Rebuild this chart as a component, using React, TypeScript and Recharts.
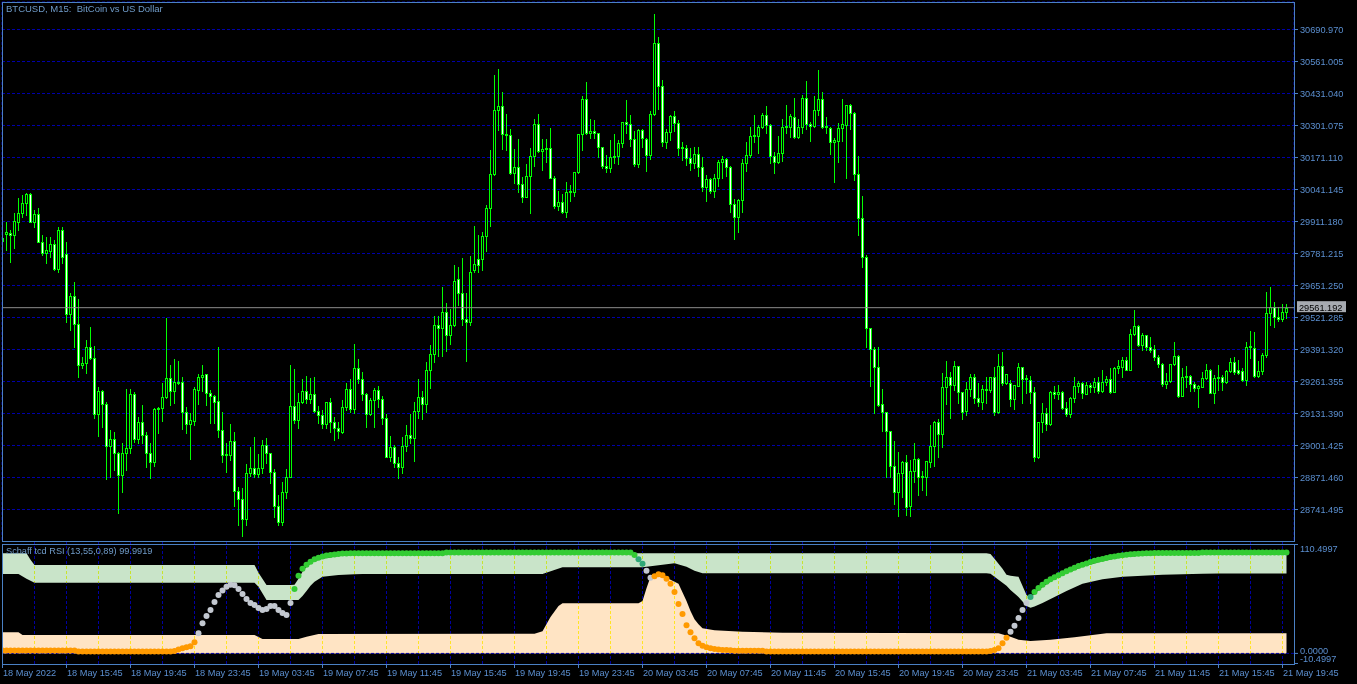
import { ComposedChart, Bar, Area, Scatter, XAxis, YAxis, CartesianGrid, ReferenceLine } from 'recharts'

const FONT = "'Liberation Sans', Arial, sans-serif"
const FRAME = '#4a80c4'
const LABEL = '#5b8fd0'
const GRID = '#0000aa'
const CANDLE = '#00ff00'

// BTCUSD M15, 18 May 11:45 .. 21 May 20:00 (one entry per bar)
const opens = [
  29833, 29861, 29865, 29857, 29910, 29946, 29987, 30023, 29910, 29942,
  29828, 29784, 29792, 29820, 29719, 29877, 29780, 29536, 29609, 29496,
  29329, 29337, 29402, 29357, 29130, 29224, 29171, 29000, 29029, 28972,
  28883, 28972, 28992, 29211, 29029, 29098, 29045, 28972, 28935, 29151,
  29155, 29199, 29276, 29224, 29260, 29260, 29138, 29090, 29102, 29228,
  29280, 29293, 29215, 29203, 29183, 29065, 28964, 28964, 29021, 28818,
  28785, 28704, 28891, 28911, 28887, 28911, 29004, 28972, 28895, 28757,
  28692, 28814, 28874, 29163, 29106, 29179, 29224, 29191, 29211, 29142,
  29126, 29090, 29179, 29098, 29073, 29057, 29159, 29232, 29151, 29317,
  29272, 29211, 29130, 29187, 29228, 29191, 29114, 28956, 28996, 28931,
  28915, 29000, 29045, 29033, 29142, 29199, 29171, 29309, 29374, 29492,
  29479, 29544, 29451, 29492, 29678, 29621, 29516, 29504, 29715, 29759,
  29759, 29853, 29967, 30105, 30364, 30381, 30267, 30263, 30109, 30133,
  30064, 30011, 30096, 30178, 30308, 30198, 30206, 30210, 30088, 29975,
  29991, 29950, 30031, 30031, 30113, 30267, 30409, 30271, 30279, 30271,
  30214, 30137, 30129, 30174, 30178, 30230, 30316, 30308, 30247, 30145,
  30283, 30247, 30182, 30348, 30636, 30462, 30234, 30275, 30340, 30312,
  30210, 30210, 30170, 30149, 30186, 30133, 30052, 30084, 30036, 30088,
  30153, 30166, 30133, 29983, 29930, 29999, 30149, 30182, 30259, 30259,
  30295, 30344, 30303, 30178, 30153, 30190, 30295, 30295, 30336, 30255,
  30295, 30413, 30308, 30299, 30364, 30409, 30295, 30291, 30234, 30239,
  30291, 30303, 30385, 30352, 30105, 29926, 29768, 29479, 29394, 29321,
  29171, 29138, 29061, 28919, 28814, 28891, 28935, 28757, 28899, 28948,
  28874, 28874, 28935, 29000, 29098, 29049, 29240, 29280, 29248, 29325,
  29219, 29142, 29232, 29280, 29195, 29179, 29232, 29228, 29280, 29138,
  29325, 29256, 29256, 29191, 29244, 29321, 29272, 29268, 29219, 28956,
  29098, 29134, 29090, 29219, 29211, 29219, 29155, 29130, 29195, 29244,
  29256, 29211, 29248, 29240, 29260, 29224, 29260, 29272, 29219, 29317,
  29321, 29349, 29309, 29455, 29488, 29410, 29451, 29402, 29394, 29362,
  29333, 29252, 29264, 29333, 29366, 29203, 29280, 29285, 29252, 29236,
  29240, 29276, 29309, 29215, 29276, 29280, 29260, 29305, 29341, 29309,
  29305, 29268, 29402, 29398, 29285, 29305, 29370, 29540, 29565, 29524,
  29516, 29544,
]

const highs = [
  29865, 29910, 29877, 29946, 30007, 30019, 30027, 30027, 29958, 29967,
  29857, 29849, 29849, 29837, 29889, 29889, 29828, 29621, 29666, 29597,
  29362, 29431, 29483, 29406, 29240, 29228, 29179, 29065, 29057, 28976,
  29012, 29232, 29232, 29219, 29118, 29167, 29057, 29012, 29155, 29159,
  29256, 29520, 29329, 29353, 29345, 29280, 29159, 29134, 29240, 29293,
  29329, 29293, 29228, 29207, 29402, 29138, 29012, 29090, 29057, 28834,
  28830, 28927, 28996, 29037, 28968, 29025, 29033, 28972, 28907, 28801,
  28854, 28907, 29329, 29313, 29215, 29272, 29285, 29276, 29280, 29163,
  29146, 29179, 29195, 29118, 29098, 29187, 29256, 29272, 29414, 29353,
  29301, 29215, 29195, 29236, 29244, 29203, 29130, 29041, 29004, 28956,
  29037, 29086, 29130, 29179, 29272, 29224, 29341, 29410, 29528, 29528,
  29646, 29581, 29557, 29735, 29727, 29764, 29621, 29772, 29893, 29857,
  29869, 29979, 30202, 30506, 30531, 30437, 30348, 30287, 30206, 30247,
  30092, 30145, 30210, 30328, 30348, 30247, 30247, 30291, 30096, 30036,
  30023, 30072, 30060, 30113, 30267, 30421, 30478, 30328, 30324, 30271,
  30214, 30182, 30243, 30267, 30243, 30316, 30405, 30344, 30279, 30287,
  30287, 30251, 30360, 30754, 30661, 30486, 30287, 30344, 30360, 30324,
  30234, 30222, 30210, 30214, 30214, 30174, 30100, 30088, 30105, 30161,
  30178, 30170, 30137, 30003, 30003, 30166, 30234, 30295, 30344, 30303,
  30352, 30381, 30308, 30194, 30259, 30328, 30385, 30348, 30413, 30328,
  30425, 30482, 30316, 30421, 30527, 30437, 30336, 30295, 30251, 30312,
  30409, 30385, 30389, 30356, 30178, 30015, 29776, 29479, 29402, 29402,
  29232, 29138, 29061, 29021, 28976, 28939, 28964, 28943, 29012, 28952,
  28899, 28939, 29086, 29102, 29110, 29297, 29345, 29301, 29345, 29325,
  29219, 29260, 29293, 29293, 29256, 29248, 29280, 29280, 29321, 29374,
  29382, 29293, 29268, 29248, 29337, 29321, 29289, 29285, 29240, 29098,
  29175, 29155, 29224, 29244, 29248, 29224, 29179, 29199, 29280, 29264,
  29260, 29260, 29256, 29276, 29280, 29309, 29285, 29317, 29321, 29349,
  29362, 29362, 29475, 29552, 29492, 29459, 29451, 29443, 29410, 29370,
  29337, 29297, 29333, 29423, 29370, 29317, 29325, 29289, 29260, 29248,
  29301, 29333, 29313, 29289, 29329, 29289, 29309, 29357, 29362, 29349,
  29317, 29423, 29467, 29463, 29345, 29378, 29626, 29646, 29585, 29565,
  29577, 29577,
]

const lows = [
  29776, 29796, 29747, 29804, 29877, 29930, 29938, 29910, 29889, 29828,
  29776, 29743, 29768, 29715, 29707, 29743, 29504, 29471, 29402, 29280,
  29317, 29297, 29353, 29114, 29041, 29077, 28866, 28874, 28903, 28728,
  28814, 28903, 28972, 29016, 29012, 29012, 28915, 28870, 28919, 29053,
  29102, 29195, 29167, 29175, 29252, 29069, 29053, 28948, 29086, 29171,
  29224, 29167, 29094, 29094, 29037, 28935, 28895, 28943, 28757, 28680,
  28635, 28680, 28879, 28874, 28874, 28891, 28931, 28850, 28712, 28680,
  28680, 28789, 28874, 29094, 29073, 29175, 29175, 29175, 29138, 29094,
  29073, 29073, 29057, 29025, 29033, 29053, 29146, 29138, 29134, 29256,
  29187, 29077, 29126, 29077, 29159, 29090, 28956, 28939, 28915, 28870,
  28891, 28980, 29012, 28939, 29114, 29110, 29138, 29236, 29341, 29366,
  29366, 29386, 29414, 29488, 29573, 29492, 29345, 29492, 29707, 29707,
  29715, 29792, 29893, 30100, 30283, 30206, 30202, 30105, 30068, 30031,
  29991, 30011, 29946, 30137, 30194, 30121, 30153, 30088, 29967, 29958,
  29946, 29930, 29995, 30015, 30109, 30202, 30267, 30251, 30251, 30174,
  30129, 30113, 30113, 30149, 30145, 30214, 30271, 30218, 30137, 30133,
  30214, 30117, 30166, 30344, 30368, 30218, 30210, 30243, 30279, 30182,
  30161, 30141, 30121, 30129, 30096, 30036, 29995, 30027, 30011, 30056,
  30088, 30096, 29950, 29841, 29869, 29950, 30117, 30174, 30234, 30190,
  30291, 30271, 30149, 30109, 30149, 30157, 30271, 30255, 30251, 30251,
  30271, 30287, 30239, 30295, 30344, 30291, 30271, 30186, 30072, 30153,
  30239, 30088, 30287, 30080, 29857, 29727, 29402, 29244, 29134, 29163,
  29061, 28874, 28874, 28765, 28716, 28793, 28720, 28716, 28854, 28801,
  28822, 28801, 28915, 28919, 28956, 28996, 29171, 29114, 29228, 29175,
  29110, 29126, 29203, 29175, 29163, 29151, 29175, 29219, 29126, 29134,
  29248, 29252, 29163, 29151, 29244, 29175, 29215, 29175, 28939, 28952,
  29057, 29065, 29086, 29195, 29191, 29151, 29122, 29118, 29179, 29219,
  29195, 29211, 29219, 29219, 29215, 29219, 29248, 29215, 29219, 29297,
  29280, 29309, 29309, 29451, 29406, 29390, 29390, 29382, 29349, 29321,
  29244, 29236, 29260, 29329, 29199, 29203, 29240, 29224, 29224, 29159,
  29240, 29272, 29215, 29175, 29228, 29228, 29256, 29301, 29293, 29293,
  29264, 29248, 29357, 29280, 29280, 29293, 29362, 29492, 29483, 29508,
  29508, 29520,
]

const closes = [
  29845, 29869, 29857, 29914, 29946, 29987, 30023, 29910, 29942, 29828,
  29784, 29796, 29820, 29719, 29877, 29768, 29536, 29609, 29496, 29329,
  29337, 29402, 29357, 29130, 29224, 29171, 29000, 29029, 28972, 28883,
  28972, 28992, 29211, 29029, 29098, 29045, 28972, 28935, 29151, 29155,
  29199, 29276, 29224, 29260, 29256, 29138, 29090, 29106, 29232, 29280,
  29289, 29215, 29203, 29179, 29065, 28964, 28968, 29021, 28818, 28785,
  28704, 28891, 28911, 28887, 28911, 29004, 28972, 28895, 28757, 28692,
  28814, 28874, 29163, 29106, 29179, 29224, 29191, 29211, 29142, 29126,
  29090, 29179, 29098, 29073, 29061, 29159, 29232, 29151, 29317, 29272,
  29211, 29130, 29187, 29228, 29191, 29114, 28956, 28996, 28931, 28915,
  29000, 29045, 29033, 29142, 29199, 29171, 29309, 29374, 29492, 29479,
  29544, 29451, 29492, 29670, 29621, 29516, 29504, 29707, 29739, 29735,
  29853, 29967, 30105, 30364, 30381, 30267, 30263, 30109, 30133, 30064,
  30011, 30096, 30178, 30308, 30198, 30206, 30210, 30088, 29975, 29991,
  29950, 30031, 30036, 30113, 30267, 30409, 30271, 30279, 30271, 30214,
  30137, 30129, 30174, 30178, 30230, 30316, 30308, 30247, 30145, 30283,
  30251, 30182, 30348, 30636, 30462, 30234, 30275, 30340, 30312, 30210,
  30214, 30170, 30149, 30186, 30133, 30052, 30084, 30036, 30088, 30153,
  30166, 30133, 29983, 29930, 29999, 30149, 30182, 30259, 30263, 30295,
  30344, 30303, 30178, 30153, 30190, 30295, 30299, 30340, 30255, 30295,
  30413, 30308, 30299, 30364, 30409, 30295, 30299, 30234, 30243, 30291,
  30308, 30385, 30352, 30105, 29926, 29768, 29479, 29394, 29321, 29167,
  29138, 29061, 28919, 28814, 28891, 28935, 28753, 28899, 28948, 28874,
  28879, 28939, 29000, 29098, 29049, 29240, 29280, 29248, 29325, 29219,
  29138, 29232, 29280, 29195, 29179, 29232, 29228, 29280, 29138, 29325,
  29256, 29293, 29191, 29248, 29321, 29272, 29276, 29219, 28956, 29098,
  29134, 29090, 29219, 29211, 29219, 29155, 29130, 29195, 29244, 29256,
  29215, 29248, 29240, 29260, 29224, 29260, 29272, 29219, 29317, 29325,
  29349, 29309, 29455, 29488, 29410, 29451, 29402, 29390, 29362, 29333,
  29252, 29264, 29333, 29366, 29203, 29280, 29285, 29252, 29236, 29244,
  29276, 29309, 29215, 29276, 29280, 29260, 29305, 29341, 29301, 29297,
  29268, 29402, 29406, 29285, 29305, 29370, 29540, 29565, 29524, 29516,
  29544, 29561.192,
]

const lastPrice = 29561.192

const priceTicks = [
  30690.97, 30561.005, 30431.04, 30301.075, 30171.11, 30041.145, 29911.18, 29781.215,
  29651.25, 29521.285, 29391.32, 29261.355, 29131.39, 29001.425, 28871.46, 28741.495,
]

// vertical grid every 8 bars (2 hours)
const gridBars = [
  8, 16, 24, 32, 40, 48, 56, 64, 72, 80, 88, 96, 104, 112, 120, 128, 136, 144, 152, 160,
  168, 176, 184, 192, 200, 208, 216, 224, 232, 240, 248, 256, 264, 272, 280, 288, 296, 304, 312, 320,
]

const timeBars = [0, 16, 32, 48, 64, 80, 96, 112, 128, 144, 160, 176, 192, 208, 224, 240, 256, 272, 288, 304, 320]
const timeLabels = [
  '18 May 2022', '18 May 15:45', '18 May 19:45', '18 May 23:45', '19 May 03:45', '19 May 07:45',
  '19 May 11:45', '19 May 15:45', '19 May 19:45', '19 May 23:45', '20 May 03:45', '20 May 07:45',
  '20 May 11:45', '20 May 15:45', '20 May 19:45', '20 May 23:45', '21 May 03:45', '21 May 07:45',
  '21 May 11:45', '21 May 15:45', '21 May 19:45',
]

// Schaff tcd RSI (13,55,0,89), one value per bar
const stc = [
  3, 3, 3, 3, 3, 3, 3, 3, 3, 3, 3, 3, 3, 3, 3, 3, 3, 3, 3,
  2, 2, 2, 2, 2, 2, 2, 2, 2, 2, 2, 2, 2, 2, 2, 2, 2, 2, 2, 2, 2, 2, 2, 2,
  2.5, 4, 5, 6, 7, 11, 20, 30, 37, 43,
  51, 58, 62.5, 66, 68, 67.5, 64, 59, 54, 50,
  48, 45, 43, 44, 47, 47, 43, 40, 38, 50,
  64, 77, 84, 88, 91, 93.5, 95, 96, 97, 97.7,
  98.2, 98.6, 99, 99.2,
  99.4, 99.4, 99.4, 99.4, 99.4, 99.4, 99.4, 99.4, 99.4, 99.4, 99.4, 99.4,
  99.4, 99.4, 99.4, 99.4, 99.4, 99.4, 99.4, 99.4, 99.4, 99.4, 99.4, 99.4,
  100, 100, 100, 100, 100, 100, 100, 100, 100, 100, 100, 100, 100, 100, 100, 100,
  100, 100, 100, 100, 100, 100, 100, 100, 100, 100, 100, 100, 100, 100, 100, 100,
  100, 100, 100, 100, 100, 100, 100, 100, 100, 100, 100, 100, 100, 100, 100,
  97.7, 93.5, 89, 82, 75, 76.5, 78.5, 77.5, 74, 69,
  61, 49, 39, 28, 21, 15, 10, 7.5, 6, 5,
  4.5, 4, 3.5, 3.3, 3.1,
  2.6, 2.6, 2.6, 2.6, 2.6, 2.6, 2.6, 2.6,
  1.8, 1.8, 1.8, 1.8, 1.8, 1.8, 1.8, 1.8, 1.8, 1.8, 1.8, 1.8, 1.8, 1.8,
  1.8, 1.8, 1.8, 1.8, 1.8, 1.8, 1.8, 1.8, 1.8, 1.8, 1.8, 1.8, 1.8, 1.8,
  1.8, 1.8, 1.8, 1.8, 1.8, 1.8, 1.8, 1.8, 1.8, 1.8, 1.8, 1.8, 1.8, 1.8,
  1.8, 1.8, 1.8, 1.8, 1.8, 1.8, 1.8, 1.8, 1.8, 1.8, 1.8, 1.8, 1.8, 1.8,
  2.4, 3.5, 5, 10, 15.6, 21.5, 27.5, 35, 43, 50,
  56, 61, 65, 68, 71, 73.5, 75.5, 77.5, 79.5, 81.5,
  83.3, 85, 86.6, 88, 89.3, 90.6, 91.8, 92.8, 93.7, 94.6,
  95.5, 96.2, 96.8, 97.4, 97.9, 98.3, 98.6, 98.9, 99.1, 99.3,
  99.4,
  99.6, 99.6, 99.6, 99.6, 99.6, 99.6, 99.6, 99.6, 99.6, 99.6, 99.6, 99.6,
  100, 100, 100, 100, 100, 100, 100, 100, 100, 100, 100,
  100, 100, 100, 100, 100, 100, 100, 100, 100, 100, 99.99,
]

// dot colour changes (first bar of each run)
const stcColorFrom = [0, 49, 73, 159, 161, 163, 252, 257, 258]
const stcColors = ['#ff9a00', '#c3c8d0', '#33cc33', '#2ea877', '#c3c8d0', '#ff9a00', '#c3c8d0', '#2ea877', '#33cc33']

// upper (green) filling: bar, lower edge, upper edge
const upperBars = [0, 4, 6, 7, 8, 63, 64, 66, 72, 73, 74, 75, 76, 77, 78, 80, 84, 88, 90, 100, 135, 140, 160, 163, 165, 168, 171, 173, 175, 246, 247, 248, 250, 251, 252, 254, 256, 257, 258, 260, 263, 266, 270, 275, 280, 285, 290, 300, 304, 321]
const upperLo = [78.8, 78.8, 74, 72, 70.1, 70.1, 66, 53, 53, 53, 53, 57, 62, 67, 71, 76, 77.8, 78.5, 78.8, 78.8, 78.8, 85.4, 85.4, 87, 88, 89.4, 86, 82, 79.4, 79.4, 79, 76, 70, 67, 63, 56, 47, 45.4, 46.5, 50, 56, 62, 69, 73.5, 76, 77, 78, 79, 79.3, 79.3]
const upperHi = [99.3, 99.3, 99.3, 93, 87.7, 87.7, 80, 67.9, 67.9, 68, 74, 81, 86, 89, 91.5, 94, 96.6, 97.6, 98, 99.3, 99.3, 99.3, 99.3, 99.3, 99.3, 99.3, 99.3, 99.3, 99.3, 99.3, 98.5, 94, 84, 78, 77, 76, 58, 55, 59, 66, 73.5, 79.5, 86, 91.7, 95.4, 97.1, 97.7, 98, 98, 97.8]

// lower (bisque) filling from 0 up to this edge
const lowerBars = [0, 4, 5, 63, 65, 74, 76, 79, 133, 135, 137, 139, 140, 159, 160, 161, 162, 163, 165, 167, 169, 171, 172, 173, 174, 175, 178, 185, 195, 249, 252, 254, 257, 262, 268, 276, 321]
const lowerHi = [20.9, 20.9, 18.2, 18.2, 14.3, 14.3, 16.5, 19.2, 19.5, 22, 36, 47, 49.7, 49.7, 52, 64.6, 76, 78.5, 77, 73, 69, 52, 42, 34, 29, 25, 23, 21.5, 20.5, 20, 16.5, 13.5, 12.3, 13.5, 16, 19.9, 19.9]

const indTicks = [110.4997, 0, -10.4997]

const candles = opens.map((o, i) => ({ i, o, h: highs[i], l: lows[i], c: closes[i] }))

function colorAt(i: number) {
  let col = stcColors[0]
  stcColorFrom.forEach((from, k) => {
    if (i >= from) col = stcColors[k]
  })
  return col
}

const indRows = stc.map((v, i) => {
  const u = upperBars.indexOf(i)
  const w = lowerBars.indexOf(i)
  return {
    i,
    stc: v,
    color: colorAt(i),
    upper: u >= 0 ? [upperLo[u], upperHi[u]] : null,
    lower: w >= 0 ? lowerHi[w] : null,
  }
})

function Candle(props: any) {
  const { x, y, width, height, payload } = props
  if (x == null || y == null || !payload) return null
  const cx = Math.round(x + width / 2 - 0.5) + 0.5
  const { o, h, l, c } = payload
  const span = h - l || 1
  const py = (v: number) => y + ((h - v) / span) * height
  const top = Math.round(py(Math.max(o, c)))
  const bot = Math.round(py(Math.min(o, c)))
  const bear = c < o
  return (
    <g>
      <line x1={cx} x2={cx} y1={Math.round(y)} y2={Math.round(y + height) + 1} stroke={CANDLE} strokeWidth={1} />
      {bot - top < 1 ? (
        <line x1={cx - 1.5} x2={cx + 1.5} y1={top + 0.5} y2={top + 0.5} stroke={CANDLE} strokeWidth={1} />
      ) : (
        <rect x={cx - 1} y={top + 0.5} width={2} height={bot - top} fill={bear ? '#ffffff' : '#000000'} stroke={CANDLE} strokeWidth={1} />
      )}
    </g>
  )
}

function PriceTag(props: any) {
  const vb = props.viewBox
  if (!vb) return null
  const x0 = vb.x + vb.width + 3
  return (
    <g>
      <rect x={x0} y={vb.y - 6.5} width={49} height={11} fill="#a6aab0" />
      <text x={x0 + 2} y={vb.y + 3} fill="#000" fontSize={9.2} fontFamily={FONT}>
        {lastPrice.toFixed(3)}
      </text>
    </g>
  )
}

function TimeTick(props: any) {
  const { x, y, payload } = props
  const k = timeBars.indexOf(payload.value)
  return (
    <text x={x + 0.5} y={y + 6} fill={LABEL} fontSize={9.2} fontFamily={FONT} textAnchor="start">
      {k >= 0 ? timeLabels[k] : ''}
    </text>
  )
}

function IndTick(props: any) {
  const { x, y, payload } = props
  const v = payload.value
  const dy = v > 50 ? 7 : v < 0 ? -5 : -3
  const ly = v > 50 ? y + 2.5 : v < 0 ? y - 0.5 : y
  return (
    <g>
      <line x1={x - 6} x2={x - 2} y1={ly} y2={ly} stroke={FRAME} />
      <text x={x} y={y + dy} dy="0.35em" fill={LABEL} fontSize={9.2} fontFamily={FONT}>
        {v.toFixed(4)}
      </text>
    </g>
  )
}

function Dot(props: any) {
  const { cx, cy, payload } = props
  if (cx == null || cy == null) return null
  return <circle cx={cx} cy={cy} r={3} fill={payload.color} />
}

export default function App() {
  return (
    <div style={{ position: 'absolute', left: 0, top: 0, width: 1357, height: 684, background: '#000', overflow: 'hidden', fontFamily: FONT }}>
      <div style={{ position: 'absolute', left: 0, top: 0 }}>
        <ComposedChart width={1357} height={542} data={candles} margin={{ top: 2, right: 0, bottom: 0, left: 2 }}>
          <CartesianGrid stroke={GRID} strokeDasharray="3 2" />
          <XAxis type="number" dataKey="i" domain={[-0.125, 322.875]} allowDataOverflow ticks={gridBars} interval={0} height={0} tick={false} axisLine={false} tickLine={false} />
          <YAxis
            orientation="right"
            width={63}
            domain={[28609.5, 30802.66]}
            allowDataOverflow
            ticks={priceTicks}
            interval={0}
            tickFormatter={(v: number) => v.toFixed(3)}
            tick={{ fill: LABEL, fontSize: 9.2, fontFamily: FONT }}
            tickLine={{ stroke: FRAME }}
            tickSize={4}
            tickMargin={2}
            axisLine={false}
          />
          <ReferenceLine y={lastPrice} stroke="#8c8c8c" label={<PriceTag />} />
          <Bar dataKey={(d: any) => [d.l, d.h]} barSize={3} shape={<Candle />} isAnimationActive={false} />
        </ComposedChart>
      </div>

      <div style={{ position: 'absolute', left: 0, top: 542 }}>
        <ComposedChart width={1357} height={142} data={indRows} margin={{ top: 0, right: 0, bottom: 0, left: 2 }}>
          <XAxis
            type="number"
            dataKey="i"
            domain={[-0.125, 322.875]}
            allowDataOverflow
            ticks={timeBars}
            interval={0}
            height={20}
            tick={<TimeTick />}
            tickLine={{ stroke: FRAME }}
            tickSize={4}
            axisLine={false}
          />
          <YAxis orientation="right" width={63} domain={[-10.5, 110.5]} allowDataOverflow ticks={indTicks} interval={0} tick={<IndTick />} tickLine={false} tickSize={4} tickMargin={2} axisLine={false} />
          <Area dataKey="upper" type="linear" stroke="none" fill="#c9e4c9" fillOpacity={1} connectNulls isAnimationActive={false} />
          <Area dataKey="lower" type="linear" baseValue={0} stroke="none" fill="#ffe4c4" fillOpacity={1} connectNulls isAnimationActive={false} />
          {gridBars.map((b) => (
            <ReferenceLine key={b} x={b} stroke="#0000a0" strokeDasharray="3 2" style={{ mixBlendMode: 'difference' }} />
          ))}
          <ReferenceLine y={0} stroke="#0000a0" strokeDasharray="3 2" />
          <Scatter dataKey="stc" shape={<Dot />} isAnimationActive={false} />
        </ComposedChart>
      </div>

      <div style={{ position: 'absolute', left: 2, top: 2, width: 1293, height: 540, border: `1px solid ${FRAME}`, boxSizing: 'border-box', pointerEvents: 'none' }} />
      <div style={{ position: 'absolute', left: 2, top: 544, width: 1293, height: 121, border: `1px solid ${FRAME}`, boxSizing: 'border-box', pointerEvents: 'none' }} />

      <div style={{ position: 'absolute', left: 6, top: 3, fontSize: 9.5, lineHeight: '11px', color: '#6f9bc8', whiteSpace: 'pre' }}>
        {'BTCUSD, M15:  BitCoin vs US Dollar'}
      </div>
      <div style={{ position: 'absolute', left: 6, top: 546, fontSize: 9.2, lineHeight: '11px', color: '#6f9bc8', whiteSpace: 'pre' }}>
        {'Schaff tcd RSI (13,55,0,89) 99.9919'}
      </div>
    </div>
  )
}
